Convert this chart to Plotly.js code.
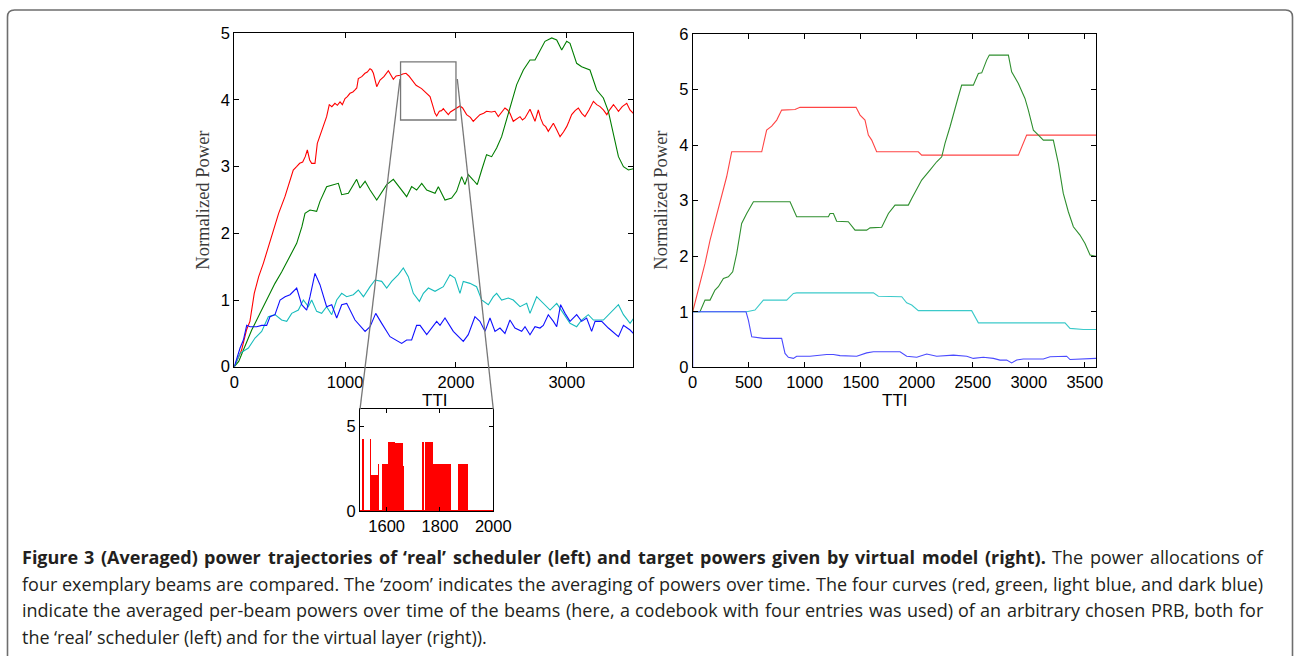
<!DOCTYPE html>
<html><head><meta charset="utf-8">
<script src="https://cdn.plot.ly/plotly-3.0.1.min.js"></script>
<style>html,body{margin:0;padding:0;background:#fff;overflow:hidden}#chart{width:1294px;height:656px}</style>
</head><body><div id="chart"></div>
<script>
// ---------- DATA ----------
// Left panel: averaged power trajectories of the 'real' scheduler
const leftRedTTI = [0,66,110,141,180,220,262,300,352,400,457,500,532,562,590,617,640,659,680,698,728,749,788,833,857,880,908,930,954,975,999,1020,1044,1070,1089,1105,1119,1150,1179,1200,1224,1240,1255,1270,1285,1315,1350,1390,1410,1435,1460,1495,1520,1549,1575,1600,1640,1690,1730,1766,1790,1811,1826,1850,1870,1886,1910,1931,1950,1976,2000,2036,2060,2096,2130,2156,2180,2216,2250,2276,2320,2352,2382,2410,2442,2465,2487,2517,2550,2578,2600,2623,2668,2690,2713,2743,2765,2788,2810,2833,2860,2879,2910,2939,2970,2999,3020,3044,3075,3104,3135,3164,3200,3240,3270,3300,3330,3361,3390,3421,3445,3466,3500,3541,3570,3600];
const leftRedPow = [0,0.25,0.55,0.68,1.1,1.35,1.55,1.75,2.05,2.3,2.55,2.78,2.95,3.0,3.05,3.07,3.15,3.25,3.1,3.05,3.05,3.35,3.55,3.75,3.93,3.9,3.95,3.92,3.97,3.93,4.02,4.05,4.1,4.12,4.15,4.18,4.32,4.35,4.4,4.42,4.47,4.45,4.4,4.3,4.2,4.3,4.35,4.44,4.38,4.31,4.36,4.37,4.39,4.4,4.36,4.3,4.22,4.17,4.1,4.05,3.92,3.8,3.76,3.83,3.84,3.87,3.82,3.78,3.82,3.85,3.88,3.91,3.88,3.78,3.74,3.68,3.72,3.78,3.8,3.83,3.82,3.83,3.75,3.82,3.88,3.85,3.8,3.68,3.72,3.75,3.7,3.73,3.86,3.76,3.68,3.85,3.72,3.63,3.6,3.53,3.6,3.65,3.55,3.45,3.52,3.6,3.68,3.78,3.84,3.88,3.8,3.75,3.85,3.98,3.93,3.9,3.85,3.78,3.86,3.93,3.88,3.83,3.9,3.95,3.85,3.8];

const leftGreenTTI = [0,40,82,157,232,322,367,427,503,563,610,638,683,743,773,833,894,939,969,1029,1104,1134,1180,1225,1285,1315,1375,1435,1495,1555,1600,1645,1691,1736,1811,1841,1901,1961,2006,2051,2081,2111,2156,2192,2232,2276,2322,2367,2412,2457,2502,2548,2608,2668,2713,2758,2803,2864,2909,2954,2999,3029,3089,3134,3209,3270,3330,3375,3421,3466,3511,3556,3600];
const leftGreenPow = [0,0.08,0.25,0.55,0.8,1.1,1.25,1.42,1.65,1.85,2.1,2.3,2.35,2.33,2.48,2.7,2.73,2.75,2.58,2.6,2.81,2.68,2.78,2.65,2.5,2.58,2.73,2.81,2.68,2.55,2.7,2.65,2.75,2.65,2.6,2.7,2.5,2.53,2.63,2.85,2.73,2.88,2.8,2.73,2.95,3.18,3.15,3.28,3.45,3.7,3.95,4.23,4.45,4.6,4.6,4.73,4.88,4.93,4.9,4.75,4.88,4.85,4.55,4.5,4.45,4.15,4.03,3.83,3.5,3.15,3.0,2.95,2.97];

const leftCyanTTI = [0,52,127,187,247,307,367,427,473,518,578,623,668,698,743,788,833,879,924,969,1014,1074,1119,1165,1225,1270,1330,1375,1420,1480,1525,1570,1615,1670,1706,1751,1811,1886,1946,1991,2036,2066,2126,2186,2232,2292,2337,2367,2412,2472,2517,2578,2638,2668,2728,2788,2849,2909,2969,3029,3089,3134,3194,3240,3330,3390,3466,3511,3571,3600];
const leftCyanPow = [0,0.2,0.28,0.43,0.53,0.75,0.78,0.7,0.68,0.8,0.85,1.0,0.9,1.0,0.83,0.8,0.9,0.78,1.0,1.1,1.05,1.08,1.15,1.05,1.2,1.3,1.28,1.18,1.28,1.38,1.48,1.35,1.1,0.98,1.1,1.18,1.13,1.2,1.38,1.33,1.1,1.28,1.25,1.2,1.0,0.93,1.05,1.1,1.0,1.03,1.0,0.9,0.95,0.8,1.05,0.95,0.85,0.95,0.8,0.65,0.6,0.7,0.78,0.7,0.7,0.8,0.93,0.78,0.65,0.72];

const leftBlueTTI = [0,52,82,112,142,202,247,292,322,367,413,458,503,563,608,653,683,728,773,833,879,924,969,1014,1089,1180,1225,1276,1330,1405,1510,1555,1600,1645,1676,1736,1826,1856,1901,1976,2066,2111,2171,2216,2262,2307,2352,2397,2442,2487,2532,2593,2623,2668,2713,2758,2788,2833,2879,2909,2944,2984,3029,3089,3134,3179,3224,3255,3315,3375,3466,3511,3571,3600];
const leftBluePow = [0,0.28,0.4,0.62,0.6,0.6,0.62,0.62,0.75,0.78,1.0,1.05,1.08,1.18,0.93,0.85,1.05,1.4,1.23,0.9,0.93,0.73,0.93,0.95,0.7,0.53,0.6,0.8,0.65,0.45,0.35,0.4,0.4,0.62,0.62,0.48,0.68,0.62,0.73,0.53,0.38,0.48,0.75,0.68,0.53,0.73,0.53,0.58,0.5,0.7,0.58,0.53,0.6,0.48,0.6,0.58,0.62,0.78,0.68,0.6,0.93,0.8,0.68,0.78,0.68,0.73,0.53,0.68,0.68,0.58,0.45,0.62,0.55,0.5];

// Right panel: target powers given by the virtual model
const rightRedTTI = [0,80,110,155,244,303,348,616,660,705,750,794,913,958,1458,1494,1538,1568,1598,1642,2014,2044,2907,2951,2981,3600];
const rightRedPow = [1.0,1.63,1.87,2.29,2.95,3.43,3.88,3.88,4.27,4.34,4.45,4.63,4.64,4.68,4.68,4.54,4.45,4.18,4.09,3.88,3.88,3.82,3.82,4.03,4.18,4.18];

const rightGreenTTI = [0,0,65,110,155,199,229,274,318,357,393,437,482,542,869,928,1211,1226,1256,1285,1389,1449,1553,1583,1687,1747,1806,1925,1955,2000,2044,2118,2178,2223,2252,2297,2342,2371,2401,2505,2550,2580,2624,2648,2818,2847,2907,2966,2996,3041,3086,3130,3219,3264,3308,3353,3398,3457,3502,3547,3600];
const rightGreenPow = [3.0,1.0,1.0,1.21,1.21,1.39,1.45,1.6,1.63,1.72,2.05,2.59,2.77,2.98,2.98,2.71,2.71,2.77,2.77,2.63,2.62,2.47,2.47,2.51,2.52,2.77,2.92,2.92,3.04,3.22,3.37,3.55,3.7,3.79,4.03,4.33,4.63,4.87,5.08,5.08,5.29,5.3,5.53,5.62,5.62,5.32,5.11,4.84,4.63,4.27,4.18,4.09,4.09,3.67,3.13,2.8,2.53,2.38,2.23,2.02,2.0];

const rightCyanTTI = [0,482,556,631,839,899,928,1613,1657,1866,1910,1955,2014,2490,2550,3323,3368,3487,3600];
const rightCyanPow = [1.0,1.0,1.03,1.21,1.21,1.33,1.34,1.34,1.28,1.27,1.16,1.12,1.02,1.02,0.8,0.8,0.7,0.68,0.68];

const rightBlueTTI = [0,0,476,497,527,631,794,824,854,899,928,1047,1196,1256,1315,1464,1553,1613,1851,1910,2000,2089,2178,2327,2446,2505,2594,2684,2743,2803,2847,2892,2951,3130,3190,3338,3368,3547,3600];
const rightBluePow = [0,1.0,1.0,0.85,0.55,0.52,0.52,0.25,0.18,0.16,0.2,0.2,0.23,0.23,0.21,0.2,0.26,0.28,0.28,0.2,0.18,0.24,0.2,0.22,0.2,0.16,0.18,0.16,0.13,0.13,0.08,0.13,0.15,0.15,0.19,0.2,0.14,0.15,0.16];

// Zoom inset: per-TTI (un-averaged) powers of the red beam, TTI 1500-2000
const insetStart  = [1506,1537,1541,1569,1581,1605,1631,1650,1660,1732,1742,1772,1790,1810,1869,1887];
const insetEnd    = [1515,1541,1569,1572,1606,1631,1650,1660,1664,1740,1772,1788,1810,1840,1885,1906];
const insetHeight = [4.27,4.23,2.12,2.76,2.76,4.08,4.0,4.0,2.65,4.08,4.1,2.76,2.76,2.78,2.76,2.76];

// Tick values / labels
const leftXTicks  = [0,1000,2000,3000];
const leftYTicks  = [0,1,2,3,4,5];
const rightXTicks = [0,500,1000,1500,2000,2500,3000,3500];
const rightYTicks = [0,1,2,3,4,5,6];
const insetXTicks = [1600,1800,2000];
const insetYTicks = [0,5];

// Caption (justified block; first sentence bold)
const captionBold = "Figure 3 (Averaged) power trajectories of \u2018real\u2019 scheduler (left) and target powers given by virtual model (right).";
const captionLines = [
  captionBold + " The power allocations of",
  "four exemplary beams are compared. The \u2018zoom\u2019 indicates the averaging of powers over time. The four curves (red, green, light blue, and dark blue)",
  "indicate the averaged per-beam powers over time of the beams (here, a codebook with four entries was used) of an arbitrary chosen PRB, both for",
  "the \u2018real\u2019 scheduler (left) and for the virtual layer (right))."
];

// ---------- LAYOUT ----------
const W = 1294, H = 656;
const px = v => v / W;
const py = v => 1 - v / H;
const SANS = 'Liberation Sans, Arial, Helvetica, sans-serif';
const SERIF = 'Liberation Serif, Times New Roman, serif';
const CAPFONT = 'Open Sans';
const CAPSIZE = 18;

function ax(extra) {
  return Object.assign({
    showline: true, linecolor: '#000', linewidth: 1, mirror: 'allticks',
    ticks: 'inside', ticklen: 5, tickwidth: 1, tickcolor: '#000',
    showgrid: false, zeroline: false, fixedrange: true,
    tickfont: {family: SANS, size: 16.5, color: '#000'}
  }, extra);
}

const colL = {red: '#ff0000', green: '#007d00', cyan: '#17bcbc', blue: '#1010ff'};
const colR = {red: '#ff4545', green: '#2f8f2f', cyan: '#3ccaca', blue: '#4a4aff'};

function line(x, y, color, xa, ya, w) {
  return {type: 'scatter', mode: 'lines', x: x, y: y, xaxis: xa, yaxis: ya,
          line: {color: color, width: w || 1.1}, hoverinfo: 'skip', showlegend: false};
}

const traces = [
  line(leftRedTTI, leftRedPow, colL.red, 'x', 'y'),
  line(leftGreenTTI, leftGreenPow, colL.green, 'x', 'y'),
  line(leftCyanTTI, leftCyanPow, colL.cyan, 'x', 'y'),
  line(leftBlueTTI, leftBluePow, colL.blue, 'x', 'y'),
  line(rightRedTTI, rightRedPow, colR.red, 'x2', 'y2'),
  line(rightGreenTTI, rightGreenPow, colR.green, 'x2', 'y2'),
  line(rightCyanTTI, rightCyanPow, colR.cyan, 'x2', 'y2'),
  line(rightBlueTTI, rightBluePow, colR.blue, 'x2', 'y2'),
  {type: 'bar', xaxis: 'x3', yaxis: 'y3',
   x: insetStart.map((s, i) => (s + insetEnd[i]) / 2),
   width: insetStart.map((s, i) => insetEnd[i] - s),
   y: insetHeight, marker: {color: '#ff0000', line: {width: 0}},
   hoverinfo: 'skip', showlegend: false},
  line([1500, 2000], [0, 0], '#ff0000', 'x3', 'y3', 2)
];

// frame with rounded top corners (left, top, right edges)
const fx0 = 7.5, fx1 = 1292.5, fy0 = 10, r = 7;
const framePath = 'M ' + px(fx0) + ',' + py(H) + ' L ' + px(fx0) + ',' + py(fy0 + r) +
  ' Q ' + px(fx0) + ',' + py(fy0) + ' ' + px(fx0 + r) + ',' + py(fy0) +
  ' L ' + px(fx1 - r) + ',' + py(fy0) +
  ' Q ' + px(fx1) + ',' + py(fy0) + ' ' + px(fx1) + ',' + py(fy0 + r) +
  ' L ' + px(fx1) + ',' + py(H);

// ---- justified caption: one annotation per word, positions from measured text widths
const capLeft = 21.5, capRight = 1263, capTop = 557, capStep = 26.6;
const mctx = document.createElement('canvas').getContext('2d');
function measure(s, bold) {
  mctx.font = (bold ? 'bold ' : '') + CAPSIZE + 'px "' + CAPFONT + '"';
  return mctx.measureText(s).width;
}
const nBold = captionBold.split(' ').length;
const captionAnns = [];
captionLines.forEach((ln, li) => {
  const words = ln.split(' ');
  const bolds = words.map((w, wi) => li === 0 && wi < nBold);
  const widths = words.map((w, wi) => measure(w, bolds[wi]));
  const total = widths.reduce((a, b) => a + b, 0);
  const justify = li < captionLines.length - 1;
  const gap = justify ? (capRight - capLeft - total) / (words.length - 1) : measure(' ', false);
  let x = capLeft;
  words.forEach((w, wi) => {
    captionAnns.push({
      text: bolds[wi] ? '<b>' + w + '</b>' : w,
      xref: 'paper', yref: 'paper', x: px(x - 1), y: py(capTop + li * capStep),
      xanchor: 'left', yanchor: 'middle', showarrow: false, borderpad: 0,
      font: {family: CAPFONT, size: CAPSIZE, color: '#231f20'}
    });
    x += widths[wi] + gap;
  });
});

const layout = {
  width: W, height: H, margin: {l: 0, r: 0, t: 0, b: 0},
  paper_bgcolor: '#fff', plot_bgcolor: 'rgba(0,0,0,0)', showlegend: false,
  font: {family: SANS, color: '#000'},
  xaxis: ax({domain: [px(234.3), px(633.3)], range: [0, 3600], anchor: 'y',
             tickvals: leftXTicks, ticktext: leftXTicks.map(String)}),
  yaxis: ax({domain: [py(366.7), py(33.3)], range: [0, 5], anchor: 'x',
             tickvals: leftYTicks, ticktext: leftYTicks.map(String)}),
  xaxis2: ax({domain: [px(692.7), px(1096)], range: [0, 3600], anchor: 'y2',
              tickvals: rightXTicks, ticktext: rightXTicks.map(String)}),
  yaxis2: ax({domain: [py(367.3), py(34)], range: [0, 6], anchor: 'x2',
              tickvals: rightYTicks, ticktext: rightYTicks.map(String)}),
  xaxis3: ax({domain: [px(360), px(493.3)], range: [1500, 2000], anchor: 'y3',
              tickvals: insetXTicks, ticktext: insetXTicks.map(String), ticklen: 4}),
  yaxis3: ax({domain: [py(511), py(409.3)], range: [0, 6], anchor: 'x3',
              tickvals: insetYTicks, ticktext: insetYTicks.map(String), ticklen: 4}),
  bargap: 0,
  shapes: [
    {type: 'rect', xref: 'x', yref: 'y', x0: 1500, x1: 2000, y0: 3.7, y1: 4.57,
     line: {color: '#777', width: 1.3}},
    {type: 'line', xref: 'paper', yref: 'paper', x0: px(400), y0: py(79), x1: px(360), y1: py(409.3),
     line: {color: '#777', width: 1.3}},
    {type: 'line', xref: 'paper', yref: 'paper', x0: px(457.3), y0: py(79), x1: px(493.3), y1: py(409.3),
     line: {color: '#777', width: 1.3}},
    {type: 'path', xref: 'paper', yref: 'paper', path: framePath,
     line: {color: '#6e6e6e', width: 1.6}}
  ],
  annotations: [
    {text: 'TTI', xref: 'paper', yref: 'paper', x: px(435), y: py(400), xanchor: 'center', yanchor: 'middle',
     showarrow: false, font: {family: SANS, size: 17, color: '#000'}},
    {text: 'TTI', xref: 'paper', yref: 'paper', x: px(895), y: py(400), xanchor: 'center', yanchor: 'middle',
     showarrow: false, font: {family: SANS, size: 17, color: '#000'}},
    {text: 'Normalized Power', xref: 'paper', yref: 'paper', x: px(202.7), y: py(200), textangle: -90,
     xanchor: 'center', yanchor: 'middle', showarrow: false, font: {family: SERIF, size: 18.5, color: '#3a3a3a'}},
    {text: 'Normalized Power', xref: 'paper', yref: 'paper', x: px(660.7), y: py(200), textangle: -90,
     xanchor: 'center', yanchor: 'middle', showarrow: false, font: {family: SERIF, size: 18.5, color: '#3a3a3a'}}
  ].concat(captionAnns)
};

Plotly.newPlot('chart', traces, layout, {staticPlot: true, displayModeBar: false});
</script></body></html>
